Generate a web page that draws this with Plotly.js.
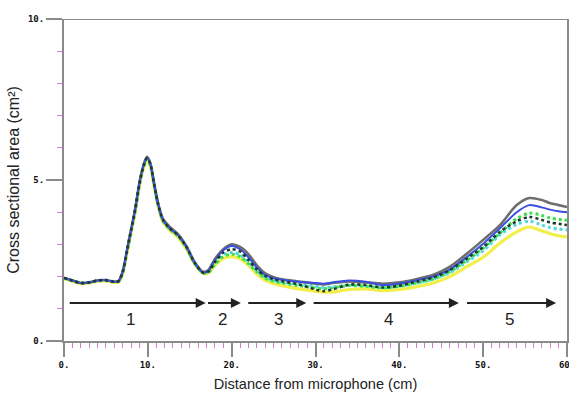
<!DOCTYPE html>
<html><head><meta charset="utf-8">
<script src="https://cdn.plot.ly/plotly-3.0.1.min.js"></script>
<style>html,body{margin:0;padding:0;background:#fff}</style>
</head><body><div id="chart" style="width:569px;height:394px"></div>
<script>
// Distance from microphone (cm)
const distance = [0,1,2,3,4,5,6,6.5,7,7.5,8,8.5,9,9.5,9.9,10.3,10.7,11.2,11.8,12.6,13.6,14.6,15.6,16.6,17.2,18,19,20,21,22,23,24,25,26,28,30,31,32,34,36,38,40,42,44,46,48,50,52,54,55.5,57,58,59,60];
// Cross sectional area (cm2) per series
const seriesGray   = [1.96,1.88,1.80,1.82,1.88,1.89,1.84,1.86,2.15,2.80,3.45,4.12,4.92,5.48,5.72,5.52,4.98,4.30,3.80,3.55,3.32,2.95,2.45,2.15,2.20,2.55,2.85,3.00,2.92,2.70,2.35,2.10,1.98,1.92,1.85,1.78,1.76,1.80,1.85,1.82,1.78,1.82,1.92,2.05,2.30,2.70,3.14,3.60,4.22,4.44,4.38,4.28,4.22,4.16];
const seriesBlue   = [1.96,1.88,1.80,1.82,1.88,1.89,1.84,1.86,2.15,2.80,3.45,4.10,4.90,5.45,5.68,5.50,4.95,4.28,3.76,3.50,3.28,2.92,2.42,2.12,2.18,2.50,2.82,2.95,2.85,2.60,2.28,2.05,1.95,1.90,1.84,1.80,1.78,1.82,1.88,1.84,1.74,1.78,1.88,2.00,2.22,2.60,3.02,3.50,4.00,4.22,4.15,4.08,4.03,4.00];
const seriesGreen  = [1.95,1.87,1.80,1.82,1.87,1.88,1.84,1.85,2.12,2.76,3.40,4.06,4.86,5.42,5.64,5.46,4.92,4.26,3.74,3.48,3.26,2.90,2.40,2.12,2.12,2.38,2.62,2.70,2.62,2.40,2.15,1.95,1.85,1.80,1.72,1.65,1.62,1.65,1.72,1.70,1.65,1.70,1.80,1.92,2.15,2.50,2.88,3.35,3.80,3.97,3.90,3.82,3.78,3.75];
const seriesCyan   = [1.95,1.87,1.80,1.82,1.87,1.88,1.84,1.85,2.12,2.78,3.42,4.08,4.88,5.44,5.66,5.48,4.94,4.27,3.75,3.49,3.27,2.91,2.41,2.12,2.14,2.42,2.68,2.75,2.68,2.45,2.18,1.98,1.88,1.83,1.76,1.70,1.66,1.68,1.74,1.72,1.66,1.70,1.80,1.92,2.12,2.45,2.80,3.30,3.62,3.72,3.60,3.52,3.48,3.45];
const seriesBlack  = [1.96,1.88,1.80,1.82,1.88,1.89,1.84,1.86,2.15,2.80,3.45,4.10,4.90,5.45,5.68,5.50,4.95,4.28,3.76,3.50,3.28,2.92,2.42,2.12,2.15,2.45,2.75,2.85,2.78,2.52,2.22,2.02,1.92,1.86,1.76,1.60,1.55,1.60,1.75,1.74,1.66,1.72,1.84,1.97,2.20,2.55,2.92,3.39,3.72,3.85,3.76,3.68,3.64,3.60];
const seriesYellow = [1.94,1.86,1.78,1.80,1.86,1.87,1.82,1.83,2.08,2.72,3.36,4.02,4.82,5.38,5.60,5.42,4.88,4.22,3.70,3.44,3.22,2.86,2.38,2.10,2.10,2.35,2.56,2.62,2.55,2.35,2.08,1.88,1.78,1.72,1.62,1.55,1.52,1.52,1.60,1.62,1.56,1.60,1.68,1.80,2.00,2.30,2.60,3.04,3.39,3.54,3.42,3.33,3.27,3.23];
// Region arrows along distance axis
const segStart  = [0.5, 17.0, 21.8, 29.6, 47.9];
const segEnd    = [16.9, 21.1, 28.9, 47.1, 58.7];
const segLabels = ["1","2","3","4","5"];
const segLabelX = [7.9, 18.9, 25.6, 38.7, 53.1];
const arrowY = 1.18, labelY = 0.68;
// Tick labels
const xTickVals = [0,10,20,30,40,50,60];
const xTickText = ["0.","10.","20.","30.","40.","50.","60."];
const yTickVals = [0,5,10];
const yTickText = ["0.","5.","10."];

const styles = [
  {y: seriesYellow, color:'#f2ef4a', width:3.2, dash:'solid'},
  {y: seriesCyan,   color:'#4fd9df', width:3, dash:'dot'},
  {y: seriesGreen,  color:'#39e04a', width:3, dash:'dot'},
  {y: seriesGray,   color:'#6e6e6e', width:2.6, dash:'solid'},
  {y: seriesBlue,   color:'#3a4fe0', width:2, dash:'solid'},
  {y: seriesBlack,  color:'#1f3a2a', width:2.6, dash:'dot'}
];
const traces = styles.map(s => ({
  x: distance, y: s.y, type:'scatter', mode:'lines',
  line:{color:s.color, width:s.width, dash:s.dash, shape:'spline', smoothing:0.8},
  hoverinfo:'skip', showlegend:false
}));

const annotations = [];
for (let i = 0; i < segStart.length; i++) {
  annotations.push({x: segEnd[i], y: arrowY, ax: segStart[i], ay: arrowY,
    xref:'x', yref:'y', axref:'x', ayref:'y', text:'', showarrow:true,
    arrowhead:2, arrowsize:1, arrowwidth:2, arrowcolor:'#222'});
  annotations.push({x: segLabelX[i], y: labelY, xref:'x', yref:'y', text: segLabels[i],
    showarrow:false, font:{family:'Liberation Sans, Arial', size:17, color:'#222'}});
}

const tickFont = {family:'DejaVu Sans Mono, monospace', size:9, color:'#111', weight:700};
const layout = {
  width:569, height:394,
  margin:{l:64, r:2, t:19, b:53},
  paper_bgcolor:'#fff', plot_bgcolor:'#fff',
  xaxis:{range:[0,60], showgrid:false, zeroline:false, showline:true, linecolor:'#8a8a8a', linewidth:2,
    mirror:false, tickmode:'array', tickvals:xTickVals, ticktext:xTickText, ticks:'outside', ticklen:14,
    tickwidth:2, tickcolor:'#8a8a8a', tickfont:tickFont, ticklabeloverflow:'allow',
    minor:{dtick:1, ticks:'outside', ticklen:5, tickwidth:1, tickcolor:'#d77ad7', showgrid:false},
    title:{text:'Distance from microphone (cm)', font:{family:'Liberation Sans, Arial', size:14.6, color:'#222'}, standoff:10}},
  yaxis:{range:[0,10], showgrid:false, zeroline:false, showline:true, linecolor:'#8a8a8a', linewidth:2,
    mirror:true, tickmode:'array', tickvals:yTickVals, ticktext:yTickText, ticks:'outside', ticklen:16,
    tickwidth:2, tickcolor:'#8a8a8a', tickfont:tickFont,
    minor:{dtick:1, ticks:'outside', ticklen:5, tickwidth:1, tickcolor:'#d77ad7', showgrid:false},
    title:{text:'Cross sectional area (cm²)', font:{family:'Liberation Sans, Arial', size:16, color:'#222'}, standoff:4}},
  shapes:[{type:'line', xref:'x', yref:'y', x0:0, x1:60, y0:10, y1:10, line:{color:'#8a8a8a', width:2}}],
  annotations: annotations
};
Plotly.newPlot('chart', traces, layout, {staticPlot:true, displayModeBar:false});
</script></body></html>
